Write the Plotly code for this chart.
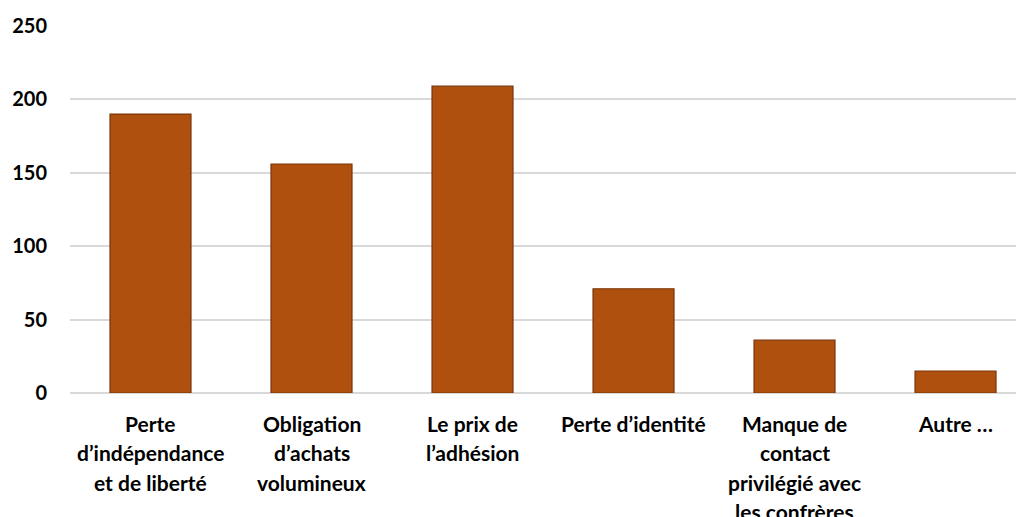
import plotly.graph_objects as go

# Data
categories = [
    "Perte d’indépendance et de liberté",
    "Obligation d’achats volumineux",
    "Le prix de l’adhésion",
    "Perte d’identité",
    "Manque de contact privilégié avec les confrères",
    "Autre …",
]
label_lines = [
    ["Perte", "d’indépendance", "et de liberté"],
    ["Obligation", "d’achats", "volumineux"],
    ["Le prix de", "l’adhésion"],
    ["Perte d’identité"],
    ["Manque de", "contact", "privilégié avec", "les confrères"],
    ["Autre …"],
]
values = [190, 156, 209, 71, 36, 15]
y_ticks = [0, 50, 100, 150, 200, 250]

BAR_COLOR = "#B0500F"
BAR_EDGE = "#7A3508"
GRID_COLOR = "#D9D9D9"
FONT = "Lato, 'Open Sans', Arial, sans-serif"

fig = go.Figure()
fig.add_trace(
    go.Bar(
        x=categories, y=values, width=0.503,
        marker=dict(color=BAR_COLOR, line=dict(color=BAR_EDGE, width=1.2)),
        hoverinfo="x+y",
    )
)

# Category labels, one annotation per line so the line spacing matches
for cat, lines in zip(categories, label_lines):
    for i, line in enumerate(lines):
        fig.add_annotation(
            x=cat, y=0, xref="x", yref="paper", text=f"<b>{line}</b>",
            showarrow=False, yanchor="middle", xanchor="center",
            yshift=-(30 + 29.5 * i),
            font=dict(family=FONT, size=21, color="#000000"),
        )

# the page body adds an 8px offset, so margins are trimmed by that much
fig.update_layout(
    width=1024, height=517,
    margin=dict(l=62, r=0, t=18, b=132),
    plot_bgcolor="white", paper_bgcolor="white",
    showlegend=False,
    font=dict(family=FONT, size=20, color="#000000"),
)
fig.update_xaxes(
    range=[-0.5, 5.475], showticklabels=False, showgrid=False,
    showline=False, zeroline=False,
)
fig.update_yaxes(
    range=[0, 250], tickvals=y_ticks, ticktext=[f"<b>{v}</b>" for v in y_ticks],
    showgrid=True, gridcolor=GRID_COLOR, gridwidth=2,
    zeroline=True, zerolinecolor=GRID_COLOR, zerolinewidth=2,
    ticks="", ticklabelstandoff=22,
    tickfont=dict(family=FONT, size=20, color="#000000"),
)

fig.write_html("out.html")
